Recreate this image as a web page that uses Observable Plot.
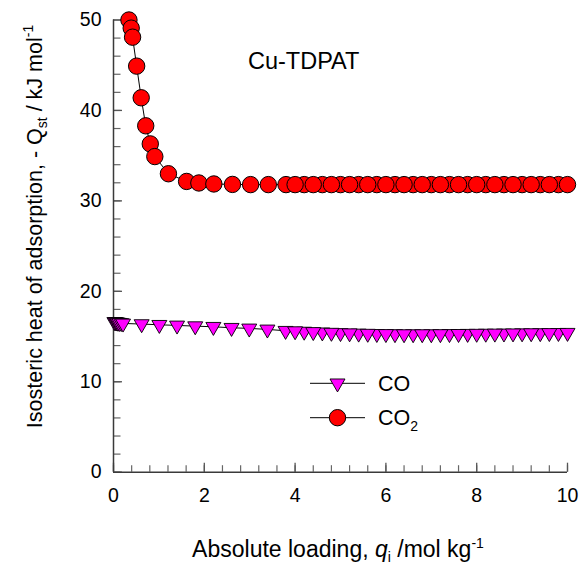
<!DOCTYPE html>
<html><head><meta charset="utf-8">
<script src="https://cdn.jsdelivr.net/npm/d3@7"></script>
<script src="https://cdn.jsdelivr.net/npm/@observablehq/plot@0.6"></script>
<style>
body{margin:0;background:#fff}
svg{font-family:"Liberation Sans",Arial,sans-serif}
</style>
</head><body><div id="chart"></div>
<script>
// ---- data ----
const seriesNames = ["CO", "CO2"];
const chartTitle = "Cu-TDPAT";
const co_q = [0.02,0.04,0.06,0.08,0.10,0.13,0.17,0.21,0.62,1.01,1.40,1.80,2.20,2.60,2.99,3.39,3.79,
  4.0,4.2,4.4,4.6,4.8,5.0,5.2,5.4,5.6,5.8,6.0,6.2,6.4,6.6,6.8,7.0,7.2,7.4,7.6,7.8,8.0,8.2,8.4,8.6,8.8,9.0,9.2,9.4,9.6,9.8,10.0];
const co_Q = [16.62,16.60,16.58,16.56,16.54,16.52,16.50,16.45,16.38,16.30,16.23,16.15,16.08,15.97,15.90,15.79,15.64,
  15.60,15.55,15.51,15.47,15.43,15.40,15.37,15.34,15.32,15.30,15.29,15.28,15.27,15.27,15.27,15.27,15.28,15.29,15.30,15.31,15.32,15.33,15.34,15.35,15.36,15.37,15.38,15.39,15.40,15.41,15.42];
const co2_q = [0.34,0.39,0.42,0.51,0.61,0.71,0.81,0.91,1.21,1.61,1.88,2.21,2.62,3.02,3.41,3.80,
  4.0,4.2,4.4,4.6,4.8,5.0,5.2,5.4,5.6,5.8,6.0,6.2,6.4,6.6,6.8,7.0,7.2,7.4,7.6,7.8,8.0,8.2,8.4,8.6,8.8,9.0,9.2,9.4,9.6,9.8,10.0];
const co2_Q = [50.0,49.1,48.1,44.9,41.4,38.3,36.3,34.9,33.0,32.15,31.98,31.87,31.82,31.80,31.80,31.80,
  31.80,31.80,31.80,31.80,31.80,31.80,31.80,31.80,31.80,31.80,31.80,31.80,31.80,31.80,31.80,31.80,31.80,31.80,31.80,31.80,31.80,31.80,31.80,31.80,31.80,31.80,31.80,31.80,31.80,31.80,31.80];
const xTicks = [0,2,4,6,8,10];
const yTicks = [0,10,20,30,40,50];

// ---- build ----
const W = 584, H = 575;
const mL = 113, mR = 17, mT = 19.5, mB = 103.3;
const fw = W - mL - mR, fh = H - mT - mB;
const coData = co_q.map((q, i) => ({q, Q: co_Q[i]}));
const co2Data = co2_q.map((q, i) => ({q, Q: co2_Q[i]}));
const xMinor = d3.range(0, 10.001, 0.4);
const yMinor = d3.range(0, 50.001, 2);
const triDown = {draw(ctx, size) {
  const r = Math.sqrt(size / Math.PI), h = r * 1.73;
  ctx.moveTo(-r, -h / 3); ctx.lineTo(r, -h / 3); ctx.lineTo(0, 2 * h / 3); ctx.closePath();
}};
const layer = d => (d.q > 3.9 && Math.round(d.q * 5) % 2 === 1) ? 0 : 1;
const axisCol = "#3a3a3a";

const plot = Plot.plot({
  width: W, height: H,
  marginLeft: mL, marginRight: mR, marginTop: mT, marginBottom: mB,
  x: {domain: [0, 10]},
  y: {domain: [0, 50]},
  style: {fontFamily: "Liberation Sans, Arial, sans-serif", fontSize: "19px", color: "#000", background: "#fff"},
  marks: [
    Plot.tickX(xMinor, {x: d => d, insetTop: fh - 6.5, stroke: "#666", strokeWidth: 1.2}),
    Plot.tickX(xTicks, {x: d => d, insetTop: fh - 9, stroke: "#555", strokeWidth: 1.3}),
    Plot.tickY(yMinor, {y: d => d, insetRight: fw - 7.5, stroke: "#666", strokeWidth: 1.2}),
    Plot.tickY(yTicks, {y: d => d, insetRight: fw - 9, stroke: "#555", strokeWidth: 1.3}),
    Plot.ruleY([0], {stroke: axisCol, strokeWidth: 1.5}),
    Plot.ruleX([0], {stroke: axisCol, strokeWidth: 1.5}),
    Plot.axisX(xTicks, {tickSize: 0, tickPadding: 16, fontSize: 19.5, label: null}),
    Plot.axisY(yTicks, {tickSize: 0, tickPadding: 12, fontSize: 19.5, label: null}),
    Plot.line(coData, {x: "q", y: "Q", stroke: "#000", strokeWidth: 1}),
    Plot.dot(coData, {x: "q", y: "Q", symbol: triDown, r: 7.5, fill: "#ff00ff", stroke: "#000", strokeWidth: 0.9, sort: layer}),
    Plot.line(co2Data, {x: "q", y: "Q", stroke: "#000", strokeWidth: 1}),
    Plot.dot(co2Data, {x: "q", y: "Q", r: 8.2, fill: "#ff0000", stroke: "#000", strokeWidth: 1, sort: layer})
  ]
});

const svg = d3.select(plot);
const font = "Liberation Sans, Arial, sans-serif";
// title
svg.append("text").attr("x", 248).attr("y", 69).attr("font-size", 23.5).attr("font-family", font)
  .attr("text-anchor", "start").attr("fill", "#000").text(chartTitle);

// legend
const leg = svg.append("g").attr("font-family", font).attr("font-size", 21.5).attr("fill", "#000")
  .attr("text-anchor", "start");
const legY = [383.3, 417.7];
legY.forEach((yy, i) => {
  leg.append("line").attr("x1", 310).attr("x2", 365).attr("y1", yy).attr("y2", yy)
    .attr("stroke", "#000").attr("stroke-width", 1);
  if (i === 0) {
    leg.append("path").attr("transform", `translate(337.5,${yy})`)
      .attr("d", d3.symbol(triDown, 7.5 * 7.5 * Math.PI)())
      .attr("fill", "#ff00ff").attr("stroke", "#000").attr("stroke-width", 0.9);
  } else {
    leg.append("circle").attr("cx", 337.5).attr("cy", yy).attr("r", 8.2)
      .attr("fill", "#ff0000").attr("stroke", "#000").attr("stroke-width", 1);
  }
  const t = leg.append("text").attr("x", 378).attr("y", yy + 7.5);
  if (seriesNames[i] === "CO2") {
    t.append("tspan").text("CO");
    t.append("tspan").attr("font-size", 14).attr("dy", 6).text("2");
  } else {
    t.text(seriesNames[i]);
  }
});

// x axis title
const xt = svg.append("text").attr("x", 338).attr("y", 557).attr("text-anchor", "middle")
  .attr("font-family", font).attr("font-size", 23).attr("fill", "#000");
xt.append("tspan").text("Absolute loading, ");
xt.append("tspan").attr("font-style", "italic").text("q");
xt.append("tspan").attr("font-size", 14).attr("dy", 5).text("i");
xt.append("tspan").attr("dy", -5).text(" /mol kg");
xt.append("tspan").attr("font-size", 14).attr("dy", -9).text("-1");

// y axis title
const yt = svg.append("text").attr("transform", "translate(42,226.5) rotate(-90)").attr("text-anchor", "middle")
  .attr("font-family", font).attr("font-size", 21.5).attr("fill", "#000");
yt.append("tspan").text("Isosteric heat of adsorption, - Q");
yt.append("tspan").attr("font-size", 14).attr("dy", 5).text("st");
yt.append("tspan").attr("dy", -5).text(" / kJ mol");
yt.append("tspan").attr("font-size", 14).attr("dy", -9).text("-1");

document.getElementById("chart").appendChild(plot);
</script>
</body></html>
